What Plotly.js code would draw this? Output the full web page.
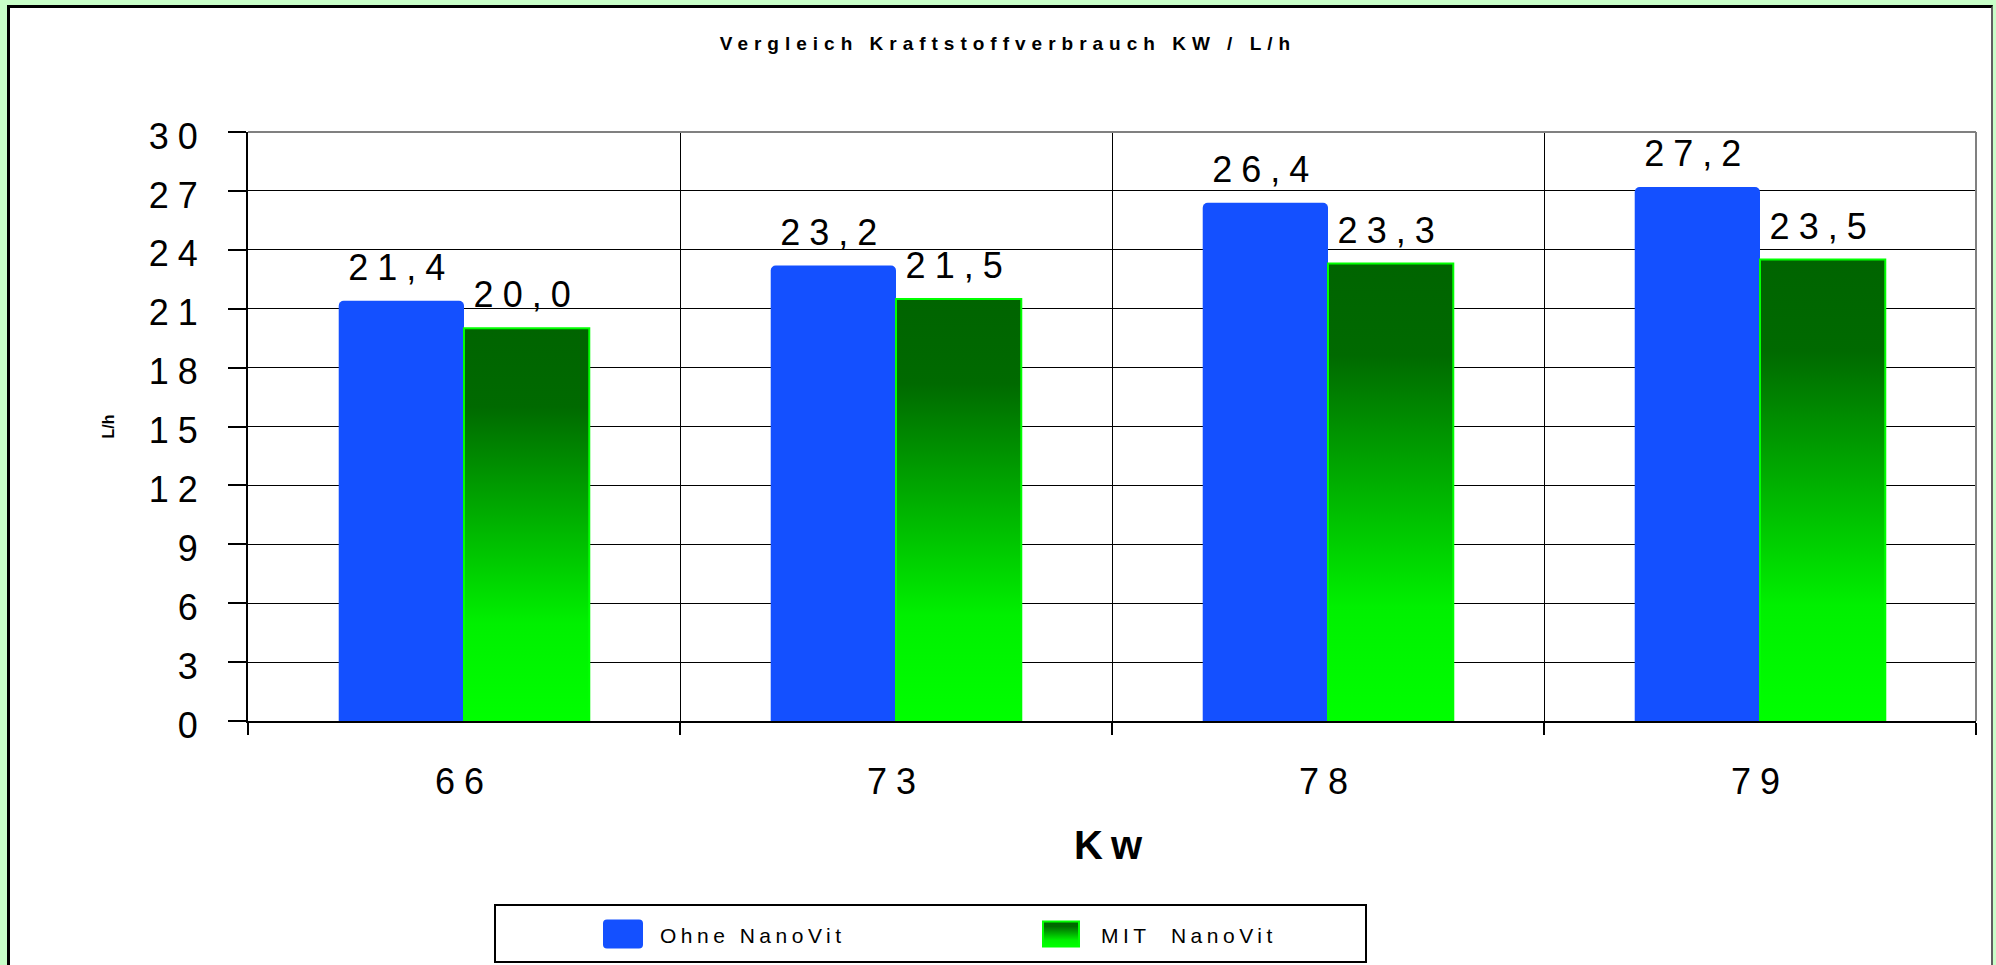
<!DOCTYPE html>
<html>
<head>
<meta charset="utf-8">
<script src="https://cdn.plot.ly/plotly-3.0.1.min.js"></script>
<style>
html,body{margin:0;padding:0;width:1996px;height:965px;overflow:hidden;background:#c8ffc8;}
#panel{position:absolute;left:7px;top:5px;width:1986px;height:1000px;background:#fff;border-left:3px solid #000;border-top:3px solid #000;border-right:2px solid #606060;box-sizing:border-box;}
#chart{position:absolute;left:0;top:0;width:1996px;height:965px;}
.ytick text, .xtick text, text.bartext {letter-spacing:9px;}
text.gtitle {letter-spacing:6px;}
text.legendtext {letter-spacing:4.5px; white-space:pre;}
text.xtitle {letter-spacing:8px;}
</style>
</head>
<body>
<svg width="0" height="0" style="position:absolute;left:0;top:0">
  <defs>
    <linearGradient id="gGrad" x1="0" y1="0" x2="0" y2="1">
      <stop offset="0" stop-color="#006400"/>
      <stop offset="0.2" stop-color="#006a00"/>
      <stop offset="0.75" stop-color="#00f000"/>
      <stop offset="1" stop-color="#00ff00"/>
    </linearGradient>
  </defs>
</svg>
<div id="panel"></div>
<div id="chart"></div>
<script>
// ---- data ----
const categories = ['66', '73', '78', '79'];
const ohneNanoVit = [21.4, 23.2, 26.4, 27.2];
const mitNanoVit = [20.0, 21.5, 23.3, 23.5];
const seriesNames = ['Ohne NanoVit', 'MIT  NanoVit'];
const chartTitle = 'Vergleich Kraftstoffverbrauch KW / L/h';
const xTitle = 'Kw';
const yTitle = 'L/h';

const FONT = '"Liberation Sans", Arial, sans-serif';

const data = [
  {
    type: 'bar', name: seriesNames[0], x: categories, y: ohneNanoVit,
    marker: {color: '#1450ff', cornerradius: 5, line: {width: 0}},
    texttemplate: '%{y:.1f}', textposition: 'outside', cliponaxis: false,
    constraintext: 'none', textfont: {size: 36, color: '#000', family: FONT}
  },
  {
    type: 'bar', name: seriesNames[1], x: categories, y: mitNanoVit,
    marker: {color: '#00a000', line: {color: '#00ff00', width: 2}},
    texttemplate: '%{y:.1f}', textposition: 'outside', cliponaxis: false,
    constraintext: 'none', textfont: {size: 36, color: '#000', family: FONT}
  }
];

const layout = {
  width: 1996, height: 965,
  separators: ',.',
  font: {family: FONT, color: '#000'},
  margin: {l: 248, r: 20, t: 132, b: 244, autoexpand: false},
  paper_bgcolor: 'rgba(0,0,0,0)',
  plot_bgcolor: '#ffffff',
  bargap: 0.42, bargroupgap: 0,
  title: {text: chartTitle, font: {size: 19, weight: 'bold', family: FONT, color: '#000'},
          x: 0.505, xanchor: 'center', y: 0.955, yanchor: 'middle'},
  xaxis: {
    type: 'category', tickson: 'boundaries', ticks: 'outside', ticklen: 12, tickwidth: 2,
    tickcolor: '#000', showgrid: true, gridcolor: '#000', gridwidth: 1,
    showline: true, linecolor: '#000', linewidth: 2,
    tickfont: {size: 36, color: '#000'}, ticklabelstandoff: 28, automargin: false,
    title: {text: xTitle, font: {size: 40, weight: 'bold', color: '#000'}, standoff: 30}
  },
  yaxis: {
    range: [0, 30], tick0: 0, dtick: 3, ticks: 'outside', ticklen: 18, tickwidth: 2,
    tickcolor: '#000', showgrid: true, gridcolor: '#000', gridwidth: 1, zeroline: false,
    showline: true, linecolor: '#000', linewidth: 2,
    tickfont: {size: 36, color: '#000'}, ticklabelstandoff: 14, automargin: false,
    title: {text: yTitle, font: {size: 16, weight: 'bold', color: '#000'}, standoff: 30}
  },
  shapes: [
    {type: 'line', xref: 'paper', yref: 'paper', x0: 0, x1: 1, y0: 1, y1: 1,
     line: {color: '#808080', width: 2}, layer: 'above'},
    {type: 'line', xref: 'paper', yref: 'paper', x0: 1, x1: 1, y0: 0, y1: 1,
     line: {color: '#808080', width: 2}, layer: 'above'}
  ],
  showlegend: true,
  legend: {orientation: 'h', x: 0.395, xanchor: 'center', y: -0.31, yanchor: 'top',
           bgcolor: '#fff', bordercolor: '#000', borderwidth: 2,
           font: {size: 21, color: '#000'}, traceorder: 'normal'}
};

const gd = document.getElementById('chart');
Plotly.newPlot(gd, data, layout, {staticPlot: true, displayModeBar: false}).then(function () {
  // gradient fill for the second series
  const barTraces = gd.querySelectorAll('.barlayer .trace');
  if (barTraces[1]) {
    barTraces[1].querySelectorAll('.point path').forEach(function (p) { p.style.fill = 'url(#gGrad)'; });
  }
  // lift value labels a little
  gd.querySelectorAll('.barlayer text.bartext').forEach(function (t) {
    const tr = t.getAttribute('transform') || '';
    t.setAttribute('transform', tr + ' translate(0,-10)');
  });
  // y tick labels sit slightly below their gridline in the reference
  gd.querySelectorAll('.ytick text').forEach(function (t) {
    const tr = t.getAttribute('transform') || '';
    t.setAttribute('transform', tr + ' translate(0,4)');
  });

  // legend styling
  const BOX = {left: 494, top: 904, width: 873, height: 59};
  const SW = [{off: 109, w: 40, h: 29, tx: 57}, {off: 549, w: 36, h: 25, tx: 58}];
  const leg = gd.querySelector('.legend');
  if (!leg) return;
  leg.setAttribute('transform', 'translate(' + BOX.left + ',' + BOX.top + ')');
  const bg = leg.querySelector('rect.bg');
  if (bg) {
    bg.setAttribute('x', 1); bg.setAttribute('y', 1);
    bg.setAttribute('width', BOX.width - 2); bg.setAttribute('height', BOX.height - 2);
  }
  const sb = leg.querySelector('.scrollbox');
  if (sb) sb.removeAttribute('clip-path');
  const traces = leg.querySelectorAll('g.traces');
  traces.forEach(function (t, i) {
    const s = SW[i]; if (!s) return;
    const p = t.querySelector('.legendpoints path');
    const txt = t.querySelector('text.legendtext');
    if (txt) txt.setAttributeNS('http://www.w3.org/XML/1998/namespace', 'xml:space', 'preserve');
    if (p) {
      const hw = s.w / 2, hh = s.h / 2, r = i === 0 ? 4 : 0;
      if (r) {
        p.setAttribute('d', 'M' + (-hw + r) + ',' + (-hh) + 'H' + (hw - r) + 'A' + r + ',' + r + ' 0 0 1 ' + hw + ',' + (-hh + r) +
          'V' + (hh - r) + 'A' + r + ',' + r + ' 0 0 1 ' + (hw - r) + ',' + hh + 'H' + (-hw + r) +
          'A' + r + ',' + r + ' 0 0 1 ' + (-hw) + ',' + (hh - r) + 'V' + (-hh + r) + 'A' + r + ',' + r + ' 0 0 1 ' + (-hw + r) + ',' + (-hh) + 'Z');
      } else {
        p.setAttribute('d', 'M' + hw + ',' + hh + 'H' + (-hw) + 'V' + (-hh) + 'H' + hw + 'Z');
      }
      if (i === 1) { p.style.fill = 'url(#gGrad)'; p.style.stroke = '#00ff00'; p.style.strokeWidth = '2px'; }
    }
    const pr = p.getBoundingClientRect();
    const dx = BOX.left + s.off - pr.left;
    const dy = BOX.top + 30 - (pr.top + pr.bottom) / 2;
    const m = /translate\(\s*([-\d.e]+)[\s,]*([-\d.e]*)\s*\)/.exec(t.getAttribute('transform') || '');
    const x0 = m ? parseFloat(m[1]) : 0, y0 = m && m[2] ? parseFloat(m[2]) : 0;
    t.setAttribute('transform', 'translate(' + (x0 + dx) + ',' + (y0 + dy) + ')');
    if (txt) {
      const pr2 = p.getBoundingClientRect();
      const tr2 = txt.getBoundingClientRect();
      const tdx = pr2.left + s.tx - tr2.left;
      const tdy = (pr2.top + pr2.bottom) / 2 - (tr2.top + tr2.bottom) / 2 + 1;
      txt.setAttribute('transform', 'translate(' + tdx + ',' + tdy + ')');
    }
  });
});
</script>
</body>
</html>
